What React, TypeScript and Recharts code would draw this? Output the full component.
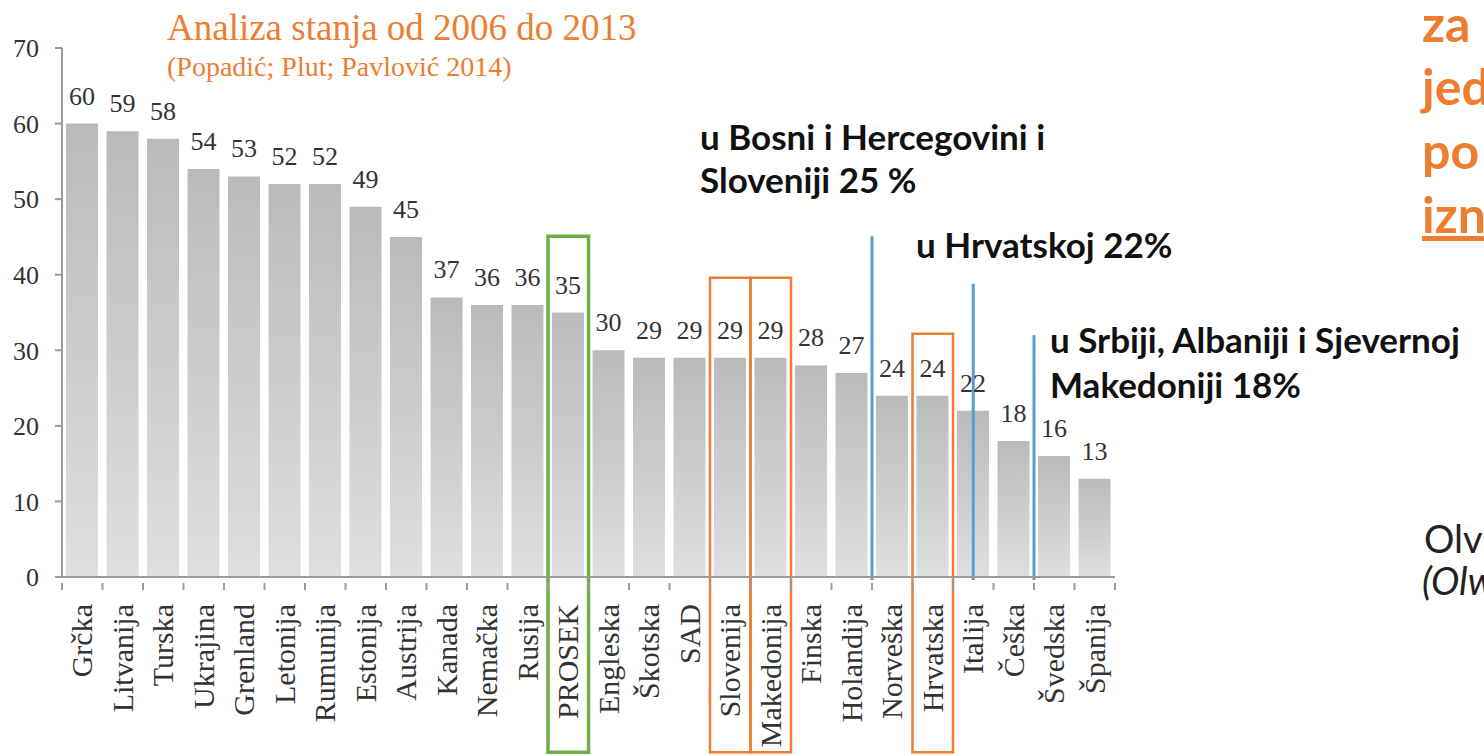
import React from 'react';
import {
  BarChart,
  Bar,
  XAxis,
  YAxis,
  LabelList,
  ReferenceArea,
  ReferenceLine,
} from 'recharts';

// countries, sorted as in the source figure
const categories = [
  'Grčka', 'Litvanija', 'Turska', 'Ukrajina', 'Grenland', 'Letonija', 'Rumunija',
  'Estonija', 'Austrija', 'Kanada', 'Nemačka', 'Rusija', 'PROSEK', 'Engleska',
  'Škotska', 'SAD', 'Slovenija', 'Makedonija', 'Finska', 'Holandija', 'Norveška',
  'Hrvatska', 'Italija', 'Češka', 'Švedska', 'Španija',
];
const values = [60, 59, 58, 54, 53, 52, 52, 49, 45, 37, 36, 36, 35, 30, 29, 29, 29, 29, 28, 27, 24, 24, 22, 18, 16, 13];
const yTicks = [0, 10, 20, 30, 40, 50, 60, 70];

// highlighted bars (framed) and how high each frame reaches
const framedBars = ['PROSEK', 'Slovenija', 'Makedonija', 'Hrvatska'];
const frameTops = [45.1, 39.6, 39.6, 32.2];
const frameColors = ['#70AD47', '#ED7D31', '#ED7D31', '#ED7D31'];
const frameBottom = -23.2;

// blue marker lines: anchor bar, side of its band, top value
const markerBars = ['Holandija', 'Italija', 'Češka'];
const markerSides: ('start' | 'middle' | 'end')[] = ['end', 'middle', 'end'];
const markerTops = [45.1, 38.8, 32.0];

const data = categories.map((name, i) => ({ name, value: values[i] }));

const serif = '"Liberation Serif", "Times New Roman", serif';
const sans = 'Lato, "Open Sans", sans-serif';

const XTick = (props: any) => {
  const { x, y, payload, index, width, visibleTicksCount } = props;
  const band = width / visibleTicksCount;
  const axisY = y - 21;
  const left = x - band / 2;
  return (
    <g>
      <line x1={left} y1={axisY} x2={left} y2={axisY + 7} stroke="#9a9a9a" strokeWidth={2} />
      {index === visibleTicksCount - 1 && (
        <line x1={left + band} y1={axisY} x2={left + band} y2={axisY + 7} stroke="#9a9a9a" strokeWidth={2} />
      )}
      <text
        x={x}
        y={y}
        dy="0.34em"
        transform={`rotate(-90, ${x}, ${y})`}
        textAnchor="end"
        fill="#333"
        fontSize={30}
        fontFamily={serif}
      >
        {payload.value}
      </text>
    </g>
  );
};

const note: React.CSSProperties = {
  position: 'absolute',
  fontFamily: sans,
  fontWeight: 700,
  fontSize: 35,
  lineHeight: 1,
  color: '#111',
  whiteSpace: 'nowrap',
};

const side: React.CSSProperties = {
  position: 'absolute',
  left: 1422,
  fontFamily: sans,
  fontWeight: 700,
  fontSize: 50,
  lineHeight: 1,
  color: '#ED7D31',
  whiteSpace: 'nowrap',
};

export default function App() {
  return (
    <div
      style={{
        position: 'absolute',
        left: 0,
        top: 0,
        width: 1484,
        height: 755,
        overflow: 'hidden',
        background: '#fff',
      }}
    >
      <BarChart
        width={1140}
        height={755}
        data={data}
        margin={{ top: 48, right: 25, bottom: 0, left: 0 }}
        barSize={32}
      >
        <defs>
          <linearGradient id="barGrad" x1="0" y1="0" x2="0" y2="1">
            <stop offset="0%" stopColor="#b9babc" />
            <stop offset="100%" stopColor="#dedfe1" />
          </linearGradient>
        </defs>
        <XAxis
          dataKey="name"
          interval={0}
          height={178}
          axisLine={{ stroke: '#9a9a9a', strokeWidth: 2 }}
          tickLine={false}
          tick={<XTick />}
          tickMargin={21}
        />
        <YAxis
          domain={[0, 70]}
          ticks={yTicks}
          width={62}
          tickSize={7}
          tickMargin={16}
          axisLine={{ stroke: '#9a9a9a', strokeWidth: 2 }}
          tickLine={{ stroke: '#9a9a9a', strokeWidth: 2 }}
          tick={{ fill: '#333', fontSize: 26, fontFamily: serif }}
        />
        <Bar dataKey="value" fill="url(#barGrad)" isAnimationActive={false}>
          <LabelList
            dataKey="value"
            position="top"
            offset={19}
            fill="#333"
            fontSize={26}
            fontFamily={serif}
          />
        </Bar>
        {framedBars.map((name, i) => (
          <ReferenceArea
            key={`f${i}`}
            x1={name}
            x2={name}
            y1={frameBottom}
            y2={frameTops[i]}
            ifOverflow="visible"
            fill="none"
            fillOpacity={0}
            stroke={frameColors[i]}
            strokeWidth={i === 0 ? 3.5 : 2.5}
          />
        ))}
        {markerBars.map((name, i) => (
          <ReferenceLine
            key={`m${i}`}
            position={markerSides[i]}
            segment={[
              { x: name, y: markerTops[i] },
              { x: name, y: -0.4 },
            ]}
            ifOverflow="visible"
            stroke="#5B9BD5"
            strokeWidth={3}
          />
        ))}
      </BarChart>

      <div
        style={{
          position: 'absolute',
          left: 167,
          top: 9,
          fontFamily: serif,
          fontSize: 37,
          lineHeight: 1,
          color: '#ED7D31',
          whiteSpace: 'nowrap',
        }}
      >
        Analiza stanja od 2006 do 2013
      </div>
      <div
        style={{
          position: 'absolute',
          left: 167,
          top: 53,
          fontFamily: serif,
          fontSize: 28,
          lineHeight: 1,
          color: '#ED7D31',
          whiteSpace: 'nowrap',
        }}
      >
        (Popadić; Plut; Pavlović 2014)
      </div>

      <div style={{ ...note, left: 700, top: 119 }}>u Bosni i Hercegovini i</div>
      <div style={{ ...note, left: 700, top: 162 }}>Sloveniji 25 %</div>
      <div style={{ ...note, left: 916, top: 227 }}>u Hrvatskoj 22%</div>
      <div style={{ ...note, left: 1050, top: 322 }}>u Srbiji, Albaniji i Sjevernoj</div>
      <div style={{ ...note, left: 1050, top: 367 }}>Makedoniji 18%</div>

      <div style={{ ...side, top: -2 }}>za</div>
      <div style={{ ...side, top: 61 }}>jed</div>
      <div style={{ ...side, top: 125 }}>po</div>
      <div style={{ ...side, top: 189, textDecoration: 'underline' }}>izn</div>

      <div
        style={{
          position: 'absolute',
          left: 1424,
          top: 519,
          fontFamily: sans,
          fontSize: 38,
          lineHeight: 1,
          color: '#222',
          whiteSpace: 'nowrap',
        }}
      >
        Olv
      </div>
      <div
        style={{
          position: 'absolute',
          left: 1422,
          top: 561,
          fontFamily: sans,
          fontStyle: 'italic',
          fontSize: 38,
          lineHeight: 1,
          color: '#222',
          whiteSpace: 'nowrap',
        }}
      >
        (Olw
      </div>
    </div>
  );
}
